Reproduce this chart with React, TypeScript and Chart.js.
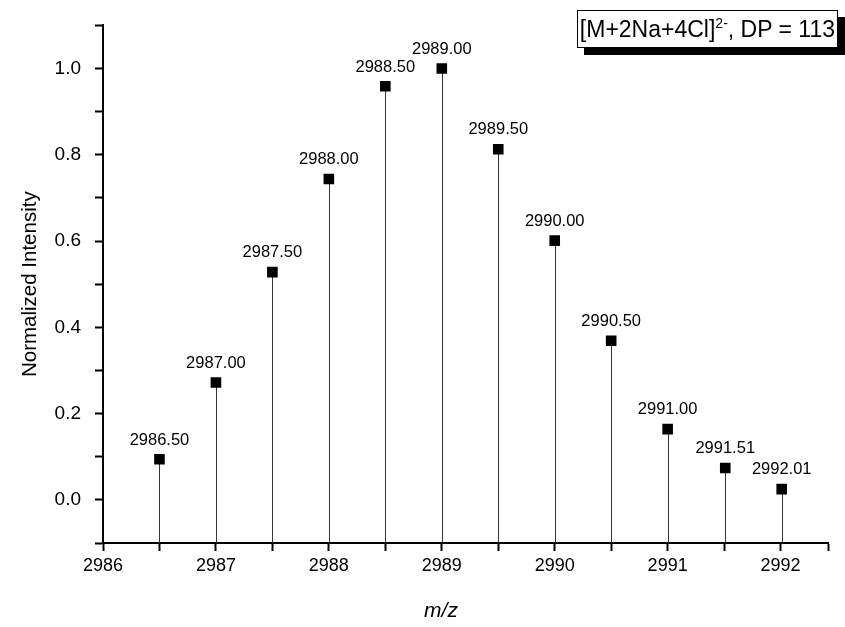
import React, { useEffect, useRef } from 'react';
import { Chart, registerables } from 'chart.js';

Chart.register(...registerables);

// m/z of each isotopic peak and its normalized intensity
const mzValues: number[] = [2986.5, 2987.0, 2987.5, 2988.0, 2988.5, 2989.0, 2989.5, 2990.0, 2990.5, 2991.0, 2991.51, 2992.01];
const intensities: number[] = [0.094, 0.272, 0.528, 0.744, 0.959, 1.0, 0.813, 0.601, 0.369, 0.164, 0.074, 0.025];
const peakLabels: string[] = ['2986.50', '2987.00', '2987.50', '2988.00', '2988.50', '2989.00', '2989.50', '2990.00', '2990.50', '2991.00', '2991.51', '2992.01'];

// axis ticks (major ticks carry labels, the others are minor)
const xTickValues: number[] = [2986, 2986.5, 2987, 2987.5, 2988, 2988.5, 2989, 2989.5, 2990, 2990.5, 2991, 2991.5, 2992];
const xTickLabels: string[] = ['2986', '', '2987', '', '2988', '', '2989', '', '2990', '', '2991', '', '2992'];
const yTickValues: number[] = [-0.1, 0.0, 0.1, 0.2, 0.3, 0.4, 0.5, 0.6, 0.7, 0.8, 0.9, 1.0, 1.1];
const yTickLabels: string[] = ['', '0.0', '', '0.2', '', '0.4', '', '0.6', '', '0.8', '', '1.0', ''];

const xMin = 2986;
const xMax = 2992.42;
const yMin = -0.1;
const yMax = 1.1;

const FONT = 'Arial, "Liberation Sans", Helvetica, sans-serif';

const stemPlugin = {
  id: 'stems',
  beforeDatasetsDraw(chart: any) {
    const { ctx, scales } = chart;
    const xs = scales.x;
    const ys = scales.y;
    ctx.save();
    ctx.strokeStyle = '#333';
    ctx.lineWidth = 1;
    mzValues.forEach((mz, i) => {
      const px = Math.round(xs.getPixelForValue(mz)) + 0.5;
      ctx.beginPath();
      ctx.moveTo(px, ys.getPixelForValue(intensities[i]));
      ctx.lineTo(px, ys.getPixelForValue(yMin));
      ctx.stroke();
    });
    ctx.restore();
  },
  afterDatasetsDraw(chart: any) {
    const { ctx, scales } = chart;
    const xs = scales.x;
    const ys = scales.y;
    ctx.save();
    ctx.fillStyle = '#000';
    ctx.font = '16.5px ' + FONT;
    ctx.textAlign = 'center';
    ctx.textBaseline = 'bottom';
    mzValues.forEach((mz, i) => {
      ctx.fillText(peakLabels[i], xs.getPixelForValue(mz), ys.getPixelForValue(intensities[i]) - 11);
    });
    ctx.restore();
  },
};

export default function App() {
  const canvasRef = useRef<HTMLCanvasElement | null>(null);

  useEffect(() => {
    document.body.style.margin = '0';
    const canvas = canvasRef.current;
    if (!canvas) return;
    const chart = new Chart(canvas, {
      type: 'scatter',
      data: {
        datasets: [
          {
            data: mzValues.map((mz, i) => ({ x: mz, y: intensities[i] })),
            pointStyle: 'rect',
            pointRadius: 7.5,
            backgroundColor: '#000',
            borderColor: '#000',
            borderWidth: 0,
            showLine: false,
          },
        ],
      },
      options: {
        responsive: false,
        animation: false,
        events: [],
        layout: { padding: { top: 18, right: 17, bottom: 0, left: 0 } },
        plugins: {
          legend: { display: false },
          tooltip: { enabled: false },
        },
        scales: {
          x: {
            type: 'linear',
            min: xMin,
            max: xMax,
            afterBuildTicks: (s: any) => {
              s.ticks = xTickValues.concat([xMax]).map((v) => ({ value: v }));
            },
            afterFit: (s: any) => {
              s.height = 84;
            },
            border: { display: true, color: '#000', width: 2 },
            grid: {
              display: true,
              drawOnChartArea: false,
              drawTicks: true,
              tickLength: 8,
              tickWidth: 2,
              tickColor: '#000',
            },
            ticks: {
              autoSkip: false,
              maxRotation: 0,
              padding: 4,
              color: '#000',
              font: { family: FONT, size: 18 },
              callback: (v: any) => {
                const i = xTickValues.indexOf(Number(v));
                return i >= 0 ? xTickLabels[i] : '';
              },
            },
            title: { display: false },
          },
          y: {
            type: 'linear',
            min: yMin,
            max: yMax,
            afterBuildTicks: (s: any) => {
              s.ticks = yTickValues.map((v) => ({ value: v }));
            },
            afterFit: (s: any) => {
              s.width = 103;
            },
            border: { display: true, color: '#000', width: 2 },
            grid: {
              display: true,
              drawOnChartArea: false,
              drawTicks: true,
              tickLength: 8,
              tickWidth: 2,
              tickColor: '#000',
            },
            ticks: {
              autoSkip: false,
              padding: 14,
              color: '#000',
              font: { family: FONT, size: 19 },
              callback: (v: any) => {
                const i = yTickValues.findIndex((t) => Math.abs(t - Number(v)) < 1e-9);
                return i >= 0 ? yTickLabels[i] : '';
              },
            },
            title: {
              display: true,
              text: 'Normalized Intensity',
              color: '#000',
              font: { family: FONT, size: 20.5 },
              padding: { top: 18, bottom: 0 },
            },
          },
        },
      },
      plugins: [stemPlugin],
    });
    return () => chart.destroy();
  }, []);

  return (
    <div style={{ position: 'absolute', left: 0, top: 0, width: 845, height: 627, background: '#fff' }}>
      <canvas ref={canvasRef} width={845} height={627} style={{ display: 'block' }} />
      <div
        style={{
          position: 'absolute',
          left: 441,
          top: 610,
          transform: 'translate(-50%, -50%)',
          fontFamily: FONT,
          fontSize: 21,
          fontStyle: 'italic',
          color: '#000',
          whiteSpace: 'nowrap',
        }}
      >
        m/z
      </div>
      <div
        style={{
          position: 'absolute',
          right: 7,
          top: 10,
          height: 36,
          lineHeight: '36px',
          padding: '0 2px',
          border: '1px solid #000',
          background: '#fff',
          boxShadow: '7px 7px 0 #000',
          fontFamily: FONT,
          fontSize: 23,
          color: '#000',
          whiteSpace: 'nowrap',
        }}
      >
        [M+2Na+4Cl]<sup style={{ fontSize: 14, lineHeight: 0, verticalAlign: 'super' }}>2-</sup>, DP = 113
      </div>
    </div>
  );
}
